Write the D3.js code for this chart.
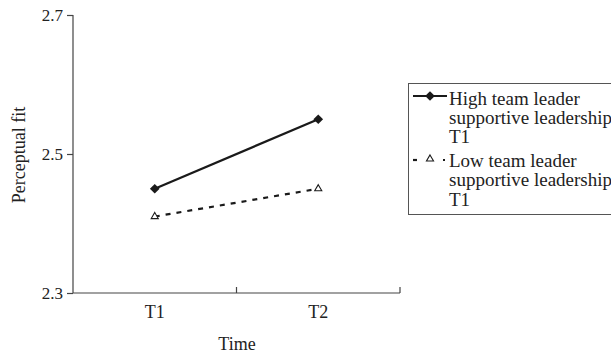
<!DOCTYPE html>
<html><head><meta charset="utf-8">
<script src="https://cdn.jsdelivr.net/npm/d3@7"></script>
<style>
body{margin:0;background:#fff;}
text{font-family:"Liberation Serif","Times New Roman",serif;fill:#222;}
</style></head>
<body><svg id="c" width="611" height="354"></svg>
<script>
const categories = ["T1", "T2"];
const highValues = [2.45, 2.55];
const lowValues = [2.41, 2.45];
const yTicks = [2.3, 2.5, 2.7];
const seriesNames = [["High team leader", "supportive leadership", "T1"], ["Low team leader", "supportive leadership", "T1"]];

const svg = d3.select("#c");
const x = d3.scaleBand().domain(categories).range([73, 400]);
const y = d3.scaleLinear().domain([2.3, 2.7]).range([293, 15]);
const axisColor = "#444";
const serif = "Liberation Serif";

// y axis
const ya = svg.append("g").attr("transform", "translate(73,0)")
  .call(d3.axisLeft(y).tickValues(yTicks).tickFormat(d3.format(".1f")).tickSize(6).tickPadding(4));
ya.select(".domain").attr("stroke", axisColor).attr("stroke-width", 1.2).attr("d", "M0,15V293");
ya.selectAll(".tick line").attr("stroke", axisColor).attr("stroke-width", 1.2);
ya.selectAll(".tick text").style("font-family", serif).style("font-size", "17px").attr("fill", "#222");

// x axis
const xa = svg.append("g").attr("transform", "translate(0,293)")
  .call(d3.axisBottom(x).tickSize(0).tickPadding(12));
xa.select(".domain").attr("stroke", axisColor).attr("stroke-width", 1.2).attr("d", "M73,0H400");
xa.selectAll(".tick text").style("font-family", serif).style("font-size", "18px").attr("fill", "#222");
// band boundary ticks (inward)
const bounds = [x.range()[0] + x.step(), x.range()[1]];
svg.append("g").selectAll("line").data(bounds).join("line")
  .attr("x1", d => d).attr("x2", d => d).attr("y1", 293).attr("y2", 287)
  .attr("stroke", axisColor).attr("stroke-width", 1.2);

// axis titles
svg.append("text").attr("transform", "translate(19,155) rotate(-90)").attr("text-anchor", "middle")
  .attr("dominant-baseline", "central").style("font-size", "18px").text("Perceptual fit");
svg.append("text").attr("x", 237).attr("y", 350).attr("text-anchor", "middle").style("font-size", "18px").text("Time");

const cx = d => x(d) + x.bandwidth() / 2;
const line = d3.line().x((d, i) => cx(categories[i])).y(d => y(d));

// high series
svg.append("path").datum(highValues).attr("d", line).attr("fill", "none").attr("stroke", "#1a1a1a").attr("stroke-width", 2.2);
const diamond = d3.symbol().type(d3.symbolDiamond2).size(60);
svg.append("g").selectAll("path").data(highValues).join("path")
  .attr("transform", (d, i) => `translate(${cx(categories[i])},${y(d)})`)
  .attr("d", diamond).attr("fill", "#1a1a1a");

// low series
svg.append("path").datum(lowValues).attr("d", line).attr("fill", "none").attr("stroke", "#1a1a1a")
  .attr("stroke-width", 2.2).attr("stroke-dasharray", "5,6");
const tri = d3.symbol().type(d3.symbolTriangle2).size(36);
svg.append("g").selectAll("path").data(lowValues).join("path")
  .attr("transform", (d, i) => `translate(${cx(categories[i])},${y(d)})`)
  .attr("d", tri).attr("fill", "#fff").attr("stroke", "#1a1a1a").attr("stroke-width", 1.1);

// legend
const lg = svg.append("g");
lg.append("rect").attr("x", 408.5).attr("y", 83.5).attr("width", 220).attr("height", 131)
  .attr("fill", "none").attr("stroke", "#555").attr("stroke-width", 1);
// high entry
lg.append("line").attr("x1", 413).attr("x2", 447).attr("y1", 96).attr("y2", 96).attr("stroke", "#1a1a1a").attr("stroke-width", 2.2);
lg.append("path").attr("transform", "translate(430,96)").attr("d", diamond).attr("fill", "#1a1a1a");
// low entry
lg.append("line").attr("x1", 413).attr("x2", 417).attr("y1", 160).attr("y2", 160).attr("stroke", "#1a1a1a").attr("stroke-width", 2.2);
lg.append("line").attr("x1", 443).attr("x2", 445).attr("y1", 160).attr("y2", 160).attr("stroke", "#1a1a1a").attr("stroke-width", 2.2);
lg.append("path").attr("transform", "translate(430,159)").attr("d", tri).attr("fill", "#fff").attr("stroke", "#1a1a1a").attr("stroke-width", 1.1);

const baselines = [[105, 124, 143], [167, 186, 206]];
seriesNames.forEach((lines, si) => {
  lines.forEach((t, li) => {
    lg.append("text").attr("x", 449).attr("y", baselines[si][li])
      .style("font-size", "19px").text(t);
  });
});
</script></body></html>
